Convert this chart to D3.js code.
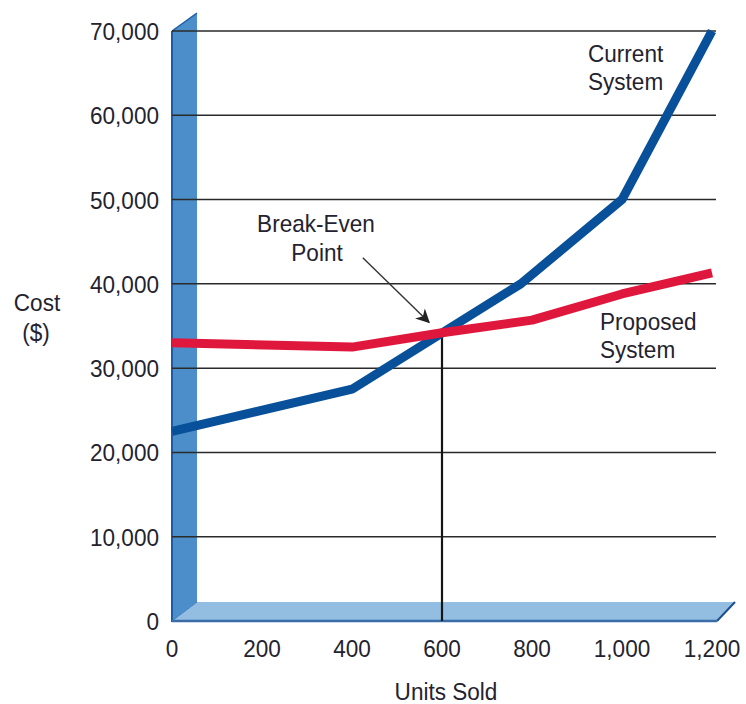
<!DOCTYPE html>
<html>
<head>
<meta charset="utf-8">
<script src="https://cdn.jsdelivr.net/npm/d3@7"></script>
<style>
  html, body { margin: 0; padding: 0; background: #fff; }
  svg { display: block; }
  text { font-family: "Liberation Sans", Arial, sans-serif; fill: #23232f; }
</style>
</head>
<body>
<svg id="chart" width="746" height="704"></svg>
<script>
// ---- data ----
const xTicks = [0, 200, 400, 600, 800, 1000, 1200];
const yTicks = [0, 10000, 20000, 30000, 40000, 50000, 60000, 70000];
const currentUnits = [0, 400, 775, 1000, 1200];
const currentCost  = [22500, 27500, 40000, 50000, 70000];
const proposedUnits = [0, 400, 600, 800, 1000, 1200];
const proposedCost  = [33000, 32500, 34200, 35700, 38800, 41300];
const breakEven = { units: 600, cost: 34200 };
const xLabel = "Units Sold";
const yLabel = ["Cost", "($)"];
const breakLabel = ["Break-Even", "Point"];
const currentLabel = ["Current", "System"];
const proposedLabel = ["Proposed", "System"];

// ---- scales ----
const svg = d3.select("#chart");
const x = d3.scaleLinear().domain([0, 1200]).range([172, 712]);
const y = d3.scaleLinear().domain([0, 70000]).range([621, 31]);
const x0 = x(0), y0 = y(0), yTop = y(70000), xEnd = x(1200);
const dx = 25, dy = 19;
const FS = 24, SX = 0.94;
const fmt = d3.format(",");

function label(px, py, str, anchor) {
  return svg.append("text")
    .attr("transform", `translate(${px},${py}) scale(${SX},1)`)
    .attr("text-anchor", anchor || "middle")
    .style("font-size", FS + "px")
    .text(str);
}

// ---- 3D wall & floor ----
svg.append("polygon")
  .attr("points", [[x0, yTop], [x0 + dx, yTop - 18], [x0 + dx, y0 - dy], [x0, y0]].map(p => p.join(",")).join(" "))
  .attr("fill", "#4b8ec9");
svg.append("polygon")
  .attr("points", [[x0, y0], [x0 + dx, y0 - dy], [xEnd + 23, y0 - dy], [xEnd + 5, y0]].map(p => p.join(",")).join(" "))
  .attr("fill", "#93bee1");
svg.append("line").attr("x1", x0).attr("x2", x0).attr("y1", yTop).attr("y2", y0 + 1)
  .attr("stroke", "#1c5ca5").attr("stroke-width", 2);
svg.append("line").attr("x1", x0).attr("x2", x0 + dx).attr("y1", yTop).attr("y2", yTop - 18)
  .attr("stroke", "#1c5ca5").attr("stroke-width", 1.5);
svg.append("line").attr("x1", xEnd + 5).attr("x2", xEnd + 23).attr("y1", y0).attr("y2", y0 - dy)
  .attr("stroke", "#1c4f8f").attr("stroke-width", 2);
svg.append("line").attr("x1", x0).attr("x2", xEnd + 5).attr("y1", y0).attr("y2", y0)
  .attr("stroke", "#3a6ca8").attr("stroke-width", 2.5);
svg.append("line").attr("x1", x0).attr("x2", x0 + dx).attr("y1", y0).attr("y2", y0 - dy)
  .attr("stroke", "#3f7fbd").attr("stroke-width", 1);

// ---- gridlines ----
svg.append("g").selectAll("line").data(yTicks.filter(d => d > 0)).join("line")
  .attr("x1", x0).attr("x2", 716)
  .attr("y1", d => y(d)).attr("y2", d => y(d))
  .attr("stroke", "#2a2a2a").attr("stroke-width", 1.5);

// ---- tick labels ----
yTicks.forEach(v => label(x0 - 13, y(v) + 9, fmt(v), "end"));
xTicks.forEach(v => label(x(v), y0 + 36, fmt(v), "middle"));

// ---- break-even vertical line ----
svg.append("line")
  .attr("x1", x(breakEven.units)).attr("x2", x(breakEven.units))
  .attr("y1", y(breakEven.cost)).attr("y2", y0)
  .attr("stroke", "#151515").attr("stroke-width", 2.2);

// ---- series lines ----
const line = d3.line().x(d => x(d[0])).y(d => y(d[1]));
svg.append("path")
  .datum(currentUnits.map((u, i) => [u, currentCost[i]]))
  .attr("d", line).attr("fill", "none")
  .attr("stroke", "#08509a").attr("stroke-width", 9).attr("stroke-linejoin", "round");
svg.append("path")
  .datum(proposedUnits.map((u, i) => [u, proposedCost[i]]))
  .attr("d", line).attr("fill", "none")
  .attr("stroke", "#e0173d").attr("stroke-width", 9).attr("stroke-linejoin", "round");

// ---- arrow ----
svg.append("defs").append("marker")
  .attr("id", "arrow").attr("viewBox", "0 0 10 10").attr("refX", 9).attr("refY", 5)
  .attr("markerWidth", 14).attr("markerHeight", 14).attr("markerUnits", "userSpaceOnUse")
  .attr("orient", "auto")
  .append("path").attr("d", "M0,0 L10,5 L0,10 L3,5 Z").attr("fill", "#222");
svg.append("line")
  .attr("x1", x(424)).attr("y1", y(43100))
  .attr("x2", x(571)).attr("y2", y(35450))
  .attr("stroke", "#333").attr("stroke-width", 1.4)
  .attr("marker-end", "url(#arrow)");

// ---- text labels ----
label(316, 232, breakLabel[0], "middle");
label(317, 261, breakLabel[1], "middle");
label(588, 62, currentLabel[0], "start");
label(588, 90, currentLabel[1], "start");
label(600, 330, proposedLabel[0], "start");
label(600, 358, proposedLabel[1], "start");
label(37, 311, yLabel[0], "middle");
label(36, 341, yLabel[1], "middle");
label(446, 700, xLabel, "middle");
</script>
</body>
</html>
